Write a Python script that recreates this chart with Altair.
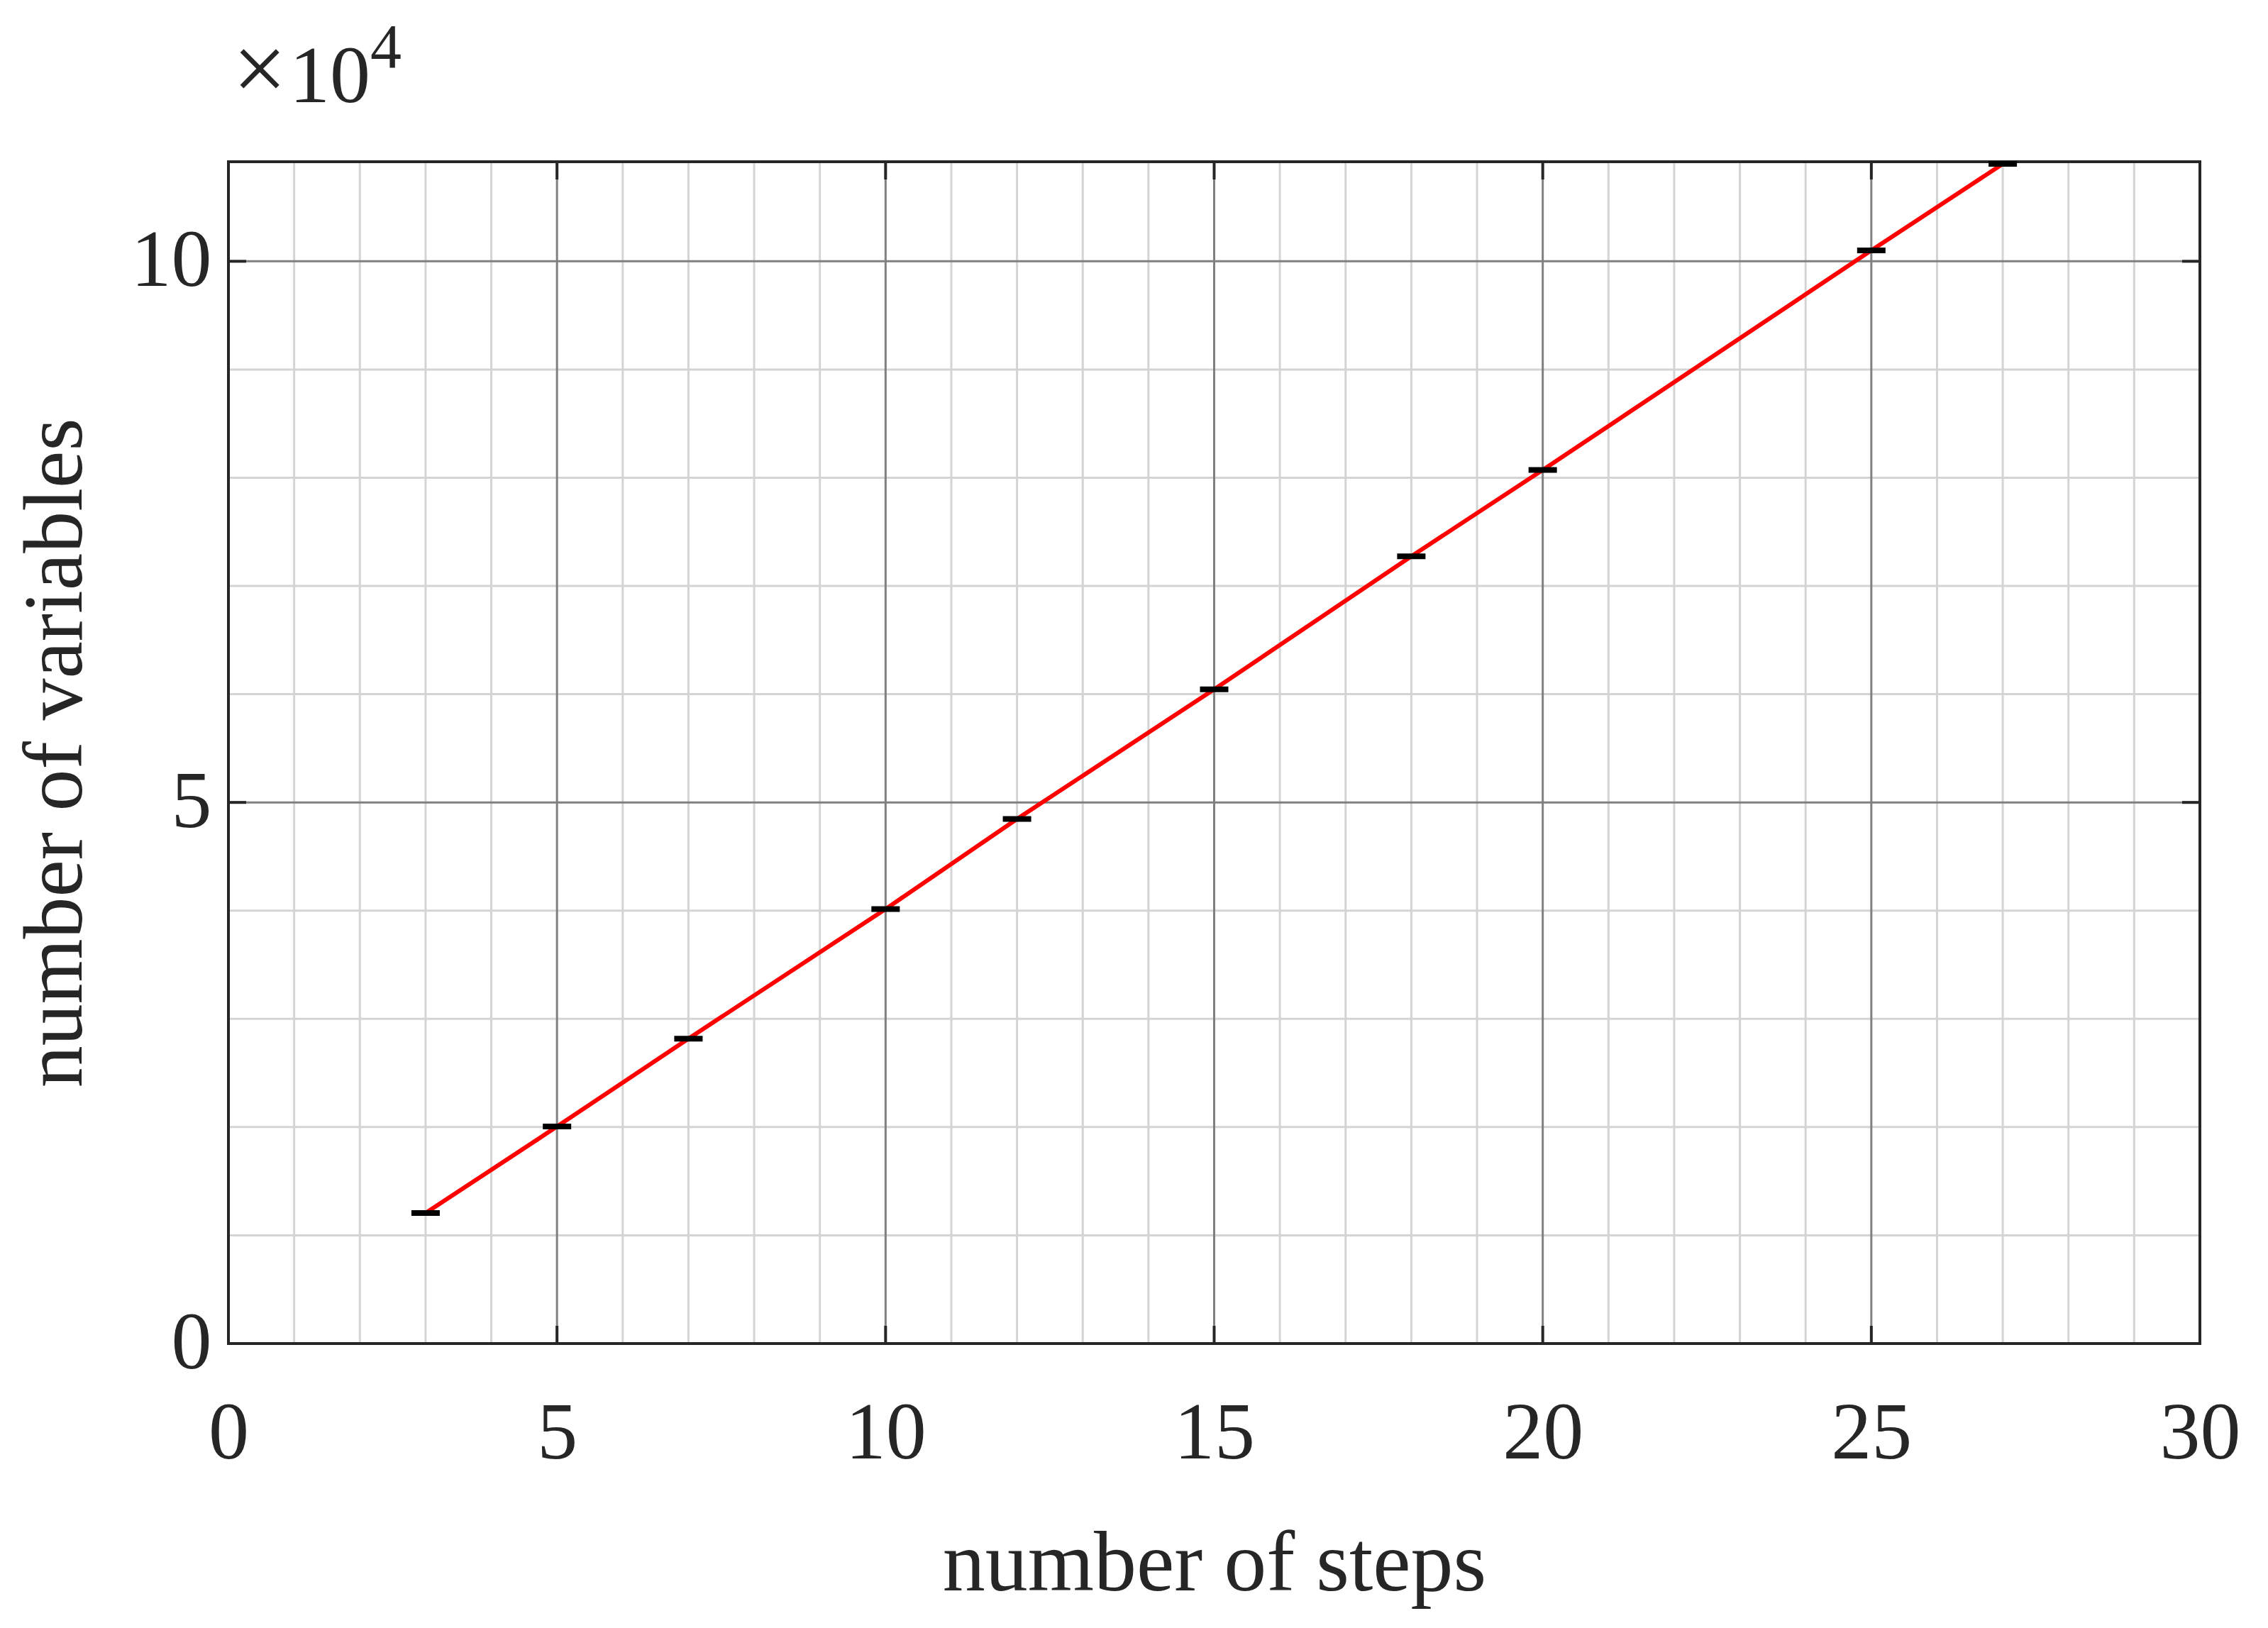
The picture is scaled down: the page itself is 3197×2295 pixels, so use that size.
import altair as alt
import pandas as pd

# data
steps = [3, 5, 7, 10, 12, 15, 18, 20, 25, 27]
variables = [12060, 20050, 28170, 40150, 48470, 60450, 72740, 80720, 101000, 109000]

x_major_ticks = [0, 5, 10, 15, 20, 25, 30]
y_major_ticks = [0, 50000, 100000]
x_minor_grid = [v for v in range(1, 30) if v % 5 != 0]
x_major_grid = [5, 10, 15, 20, 25]
y_minor_grid = [10000, 20000, 30000, 40000, 60000, 70000, 80000, 90000]
y_major_grid = [50000, 100000]

W, H = 2779, 1666
FONT = "Liberation Serif"
TXT = "#262626"

xs = alt.Scale(domain=[0, 30], nice=False, zero=False)
ys = alt.Scale(domain=[0, 109200], nice=False, zero=False)

x_axis = alt.Axis(values=x_major_ticks, grid=False, ticks=False, domain=False,
                  labelFlush=False, labelOverlap=False,
                  labelFont=FONT, labelFontSize=114, labelColor=TXT,
                  labelPadding=161, labelBaseline="alphabetic",
                  title="number of steps", titleFont=FONT, titleFontSize=120,
                  titleFontWeight="normal", titleColor=TXT,
                  titleBaseline="alphabetic", titleY=347, titleX=W / 2)
y_axis = alt.Axis(values=y_major_ticks, grid=False, ticks=False, domain=False,
                  labelFlush=False, labelOverlap=False,
                  labelExpr="'' + (datum.value / 10000)",
                  labelFont=FONT, labelFontSize=114, labelColor=TXT,
                  labelPadding=24, labelBaseline="middle",
                  title="number of variables", titleFont=FONT, titleFontSize=118,
                  titleFontWeight="normal", titleColor=TXT,
                  titleBaseline="alphabetic", titleAngle=-90,
                  titleX=-208, titleY=H / 2)


def X(field):
    return alt.X(field, scale=xs, axis=x_axis)


def Y(field):
    return alt.Y(field, scale=ys, axis=y_axis)


df = pd.DataFrame({"steps": steps, "variables": variables})


def vgrid(vals, color, sw):
    return alt.Chart(pd.DataFrame({"v": vals})).mark_rule(color=color, strokeWidth=sw).encode(
        x=X("v:Q"), y=alt.value(0), y2=alt.value(H))


def hgrid(vals, color, sw):
    return alt.Chart(pd.DataFrame({"v": vals})).mark_rule(color=color, strokeWidth=sw).encode(
        y=Y("v:Q"), x=alt.value(0), x2=alt.value(W))


minor_c = "#d4d4d4"
major_c = "#808080"

layers = [
    vgrid(x_minor_grid, minor_c, 3),
    hgrid(y_minor_grid, minor_c, 3),
    vgrid(x_major_grid, major_c, 3),
    hgrid(y_major_grid, major_c, 3),
]

# plot box
layers.append(alt.Chart(pd.DataFrame({"b": [0]})).mark_rect(
    fill="white", fillOpacity=0, stroke=TXT, strokeWidth=4).encode(
    x=alt.value(0), x2=alt.value(W), y=alt.value(0), y2=alt.value(H)))

TL = 25
xt = pd.DataFrame({"v": x_major_ticks})
yt = pd.DataFrame({"v": y_major_ticks})
for (a, b) in [(H - TL, H), (0, TL)]:
    layers.append(alt.Chart(xt).mark_rule(color=TXT, strokeWidth=4).encode(
        x=X("v:Q"), y=alt.value(a), y2=alt.value(b)))
for (a, b) in [(0, TL), (W - TL, W)]:
    layers.append(alt.Chart(yt).mark_rule(color=TXT, strokeWidth=4).encode(
        y=Y("v:Q"), x=alt.value(a), x2=alt.value(b)))

line = alt.Chart(df).mark_line(color="#ff0000", strokeWidth=6).encode(
    x=X("steps:Q"), y=Y("variables:Q"))
layers.append(line)

marks = alt.Chart(df).mark_tick(color="#000000", opacity=1, orient="horizontal",
                                size=40, thickness=8).encode(
    x=X("steps:Q"), y=Y("variables:Q"))
layers.append(marks)


def label(txt, size, x, y):
    return alt.Chart(pd.DataFrame({"t": [txt]})).mark_text(
        font=FONT, fontSize=size, color=TXT, align="left", baseline="alphabetic").encode(
        text="t:N", x=alt.value(x), y=alt.value(y))


layers += [
    label("×", 135, 6, -86),
    label("10", 114, 86, -84),
    label("4", 88, 200, -133),
]

chart = alt.layer(*layers).properties(
    width=W, height=H,
    padding={"left": 314, "top": 220, "right": 80, "bottom": 380},
    autosize=alt.AutoSizeParams(type="none"),
).configure_view(stroke=None).configure(background="white")

chart.save("out.html", embed_options={"renderer": "svg", "actions": False})
